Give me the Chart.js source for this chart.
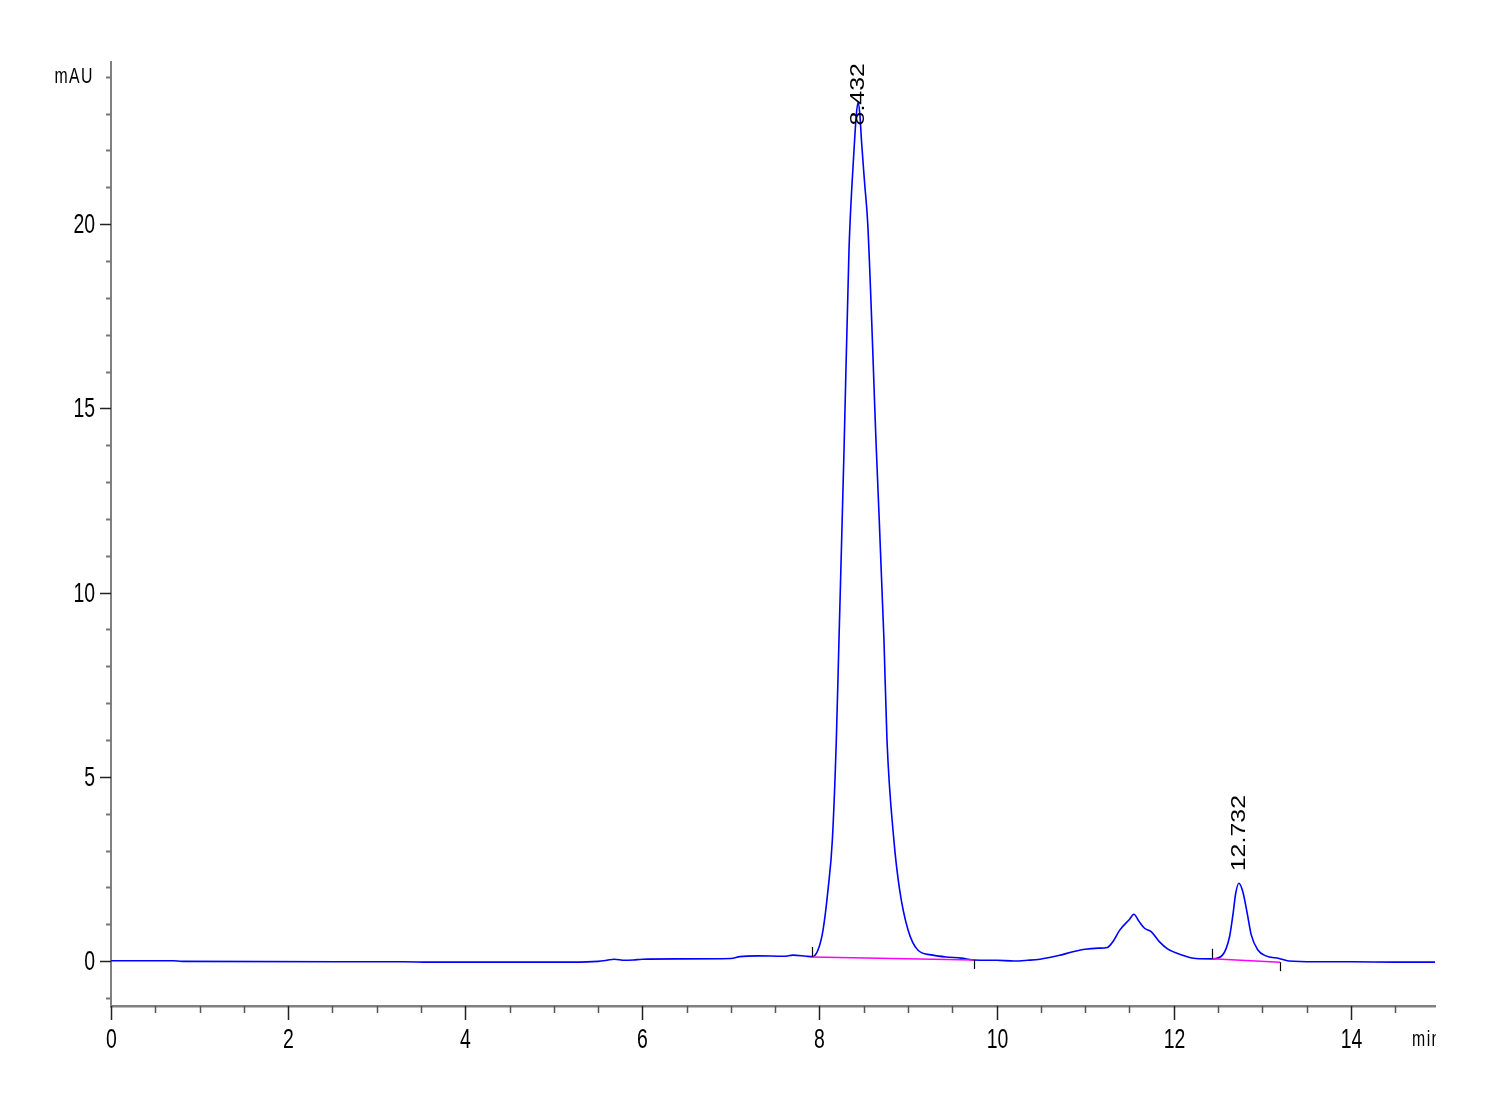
<!DOCTYPE html>
<html><head><meta charset="utf-8">
<script src="https://cdn.jsdelivr.net/npm/chart.js@4.4.1/dist/chart.umd.min.js"></script>
<style>html,body{margin:0;padding:0;background:#fff}#wrap{width:1500px;height:1100px;position:relative}</style>
</head><body><div id="wrap"><canvas id="c" width="1500" height="1100"></canvas></div>
<script>
// ---- data ----
const times = [0, 0.7, 0.8, 3.3, 3.6, 5.2, 5.5, 5.6, 5.68, 5.8, 5.9, 6.0, 6.4, 7.0, 7.1, 7.3, 7.6, 7.7, 7.85,
  7.92, 7.983, 8.04, 8.096, 8.145, 8.19, 8.22, 8.277, 8.333, 8.365, 8.397, 8.415, 8.435, 8.455, 8.476, 8.51, 8.545,
  8.642, 8.728, 8.762, 8.84, 8.905, 9.0, 9.11, 9.28, 9.43, 9.6, 9.75, 10.0, 10.2, 10.35, 10.49, 10.7, 10.86, 11.0,
  11.15, 11.25, 11.32, 11.39, 11.5, 11.55, 11.61, 11.67, 11.745, 11.84, 11.93, 12.1, 12.25, 12.44, 12.55, 12.63,
  12.67, 12.70, 12.735, 12.78, 12.83, 12.875, 12.95, 13.04, 13.19, 13.3, 13.6, 14.0, 14.5, 14.95];
const signal = [0.01, 0.01, -0.01, -0.02, -0.03, -0.03, -0.01, 0.02, 0.05, 0.02, 0.03, 0.05, 0.06, 0.07, 0.12, 0.14, 0.13, 0.16, 0.13,
  0.12, 0.30, 0.84, 1.93, 3.28, 6.0, 8.71, 13.87, 19.29, 21.0, 22.3, 22.95, 23.3, 23.0, 22.2, 21.1, 20.0,
  13.87, 8.71, 6.0, 3.28, 1.93, 0.84, 0.30, 0.16, 0.11, 0.08, 0.03, 0.02, 0.0, 0.02, 0.05, 0.15, 0.25, 0.32,
  0.35, 0.37, 0.55, 0.84, 1.13, 1.27, 1.07, 0.89, 0.80, 0.52, 0.33, 0.16, 0.07, 0.06, 0.16, 0.66,
  1.29, 1.84, 2.11, 1.88, 1.29, 0.71, 0.30, 0.14, 0.07, 0.0, -0.02, -0.02, -0.03, -0.03];
const peakTimes = [8.432, 12.732];
const peakHeights = [23.3, 2.11];
const peakLabels = ['8.432', '12.732'];
const baseStartT = [7.91, 12.43];
const baseStartY = [0.11, 0.06];
const baseEndT = [9.74, 13.2];
const baseEndY = [0.03, -0.03];
const xTickLabels = ['0', '2', '4', '6', '8', '10', '12', '14'];
const yTickLabels = ['0', '5', '10', '15', '20'];
const yUnit = 'mAU';
const xUnit = 'min';

const traceData = times.map((t, i) => ({x: t, y: signal[i]}));
const baselineSets = baseStartT.map((t, i) => ({
  data: [{x: t, y: baseStartY[i]}, {x: baseEndT[i], y: baseEndY[i]}],
  borderColor: '#ff00ff', borderWidth: 1.5, pointRadius: 0, order: 0
}));

const SANS = '"Liberation Sans", Arial, sans-serif';
const NARROW_SCALE = 0.72;

function narrowText(ctx, txt, x, y, align, baseline, size, spacing) {
  ctx.save();
  ctx.font = size + 'px ' + SANS;
  if (spacing) ctx.letterSpacing = spacing + 'px';
  ctx.textAlign = align;
  ctx.textBaseline = baseline;
  ctx.translate(x, y);
  ctx.scale(NARROW_SCALE, 1);
  ctx.fillText(txt, 0, 0);
  ctx.restore();
}

const decor = {
  id: 'decor',
  afterDraw(chart) {
    const ctx = chart.ctx, xs = chart.scales.x, ys = chart.scales.y, ca = chart.chartArea;
    ctx.save();
    // y tick marks + labels
    ys.ticks.forEach(tk => {
      const v = Math.round(tk.value * 1000) / 1000;
      if (Math.abs(v - Math.round(v)) > 1e-6) return;
      const py = Math.round(ys.getPixelForValue(v)) + 0.5;
      const major = v % 5 === 0;
      ctx.beginPath();
      ctx.strokeStyle = major ? '#222' : '#777';
      ctx.lineWidth = major ? 1.5 : 2;
      ctx.moveTo(ca.left - (major ? 11 : 5), py);
      ctx.lineTo(ca.left, py);
      ctx.stroke();
      const s = String(v);
      if (yTickLabels.includes(s)) {
        ctx.fillStyle = '#000';
        narrowText(ctx, s, 95, py + 1, 'right', 'middle', 27);
      }
    });
    // x tick marks + labels
    xs.ticks.forEach(tk => {
      const v = Math.round(tk.value * 1000) / 1000;
      const px = Math.round(xs.getPixelForValue(v)) + 0.5;
      const major = Math.abs(v / 2 - Math.round(v / 2)) < 1e-6;
      ctx.beginPath();
      ctx.strokeStyle = major ? '#222' : '#555';
      ctx.lineWidth = 1.5;
      ctx.moveTo(px, ca.bottom);
      ctx.lineTo(px, ca.bottom + (major ? 14 : 7));
      ctx.stroke();
      const s = String(v);
      if (xTickLabels.includes(s)) {
        ctx.fillStyle = '#000';
        narrowText(ctx, s, px, 1048, 'center', 'alphabetic', 27);
      }
    });
    // integration marks
    ctx.strokeStyle = '#000';
    ctx.lineWidth = 1.2;
    baseStartT.forEach((t, i) => {
      const px = Math.round(xs.getPixelForValue(t)) + 0.5, py = ys.getPixelForValue(baseStartY[i]);
      ctx.beginPath(); ctx.moveTo(px, py); ctx.lineTo(px, py - 10); ctx.stroke();
      const qx = Math.round(xs.getPixelForValue(baseEndT[i])) + 0.5, qy = ys.getPixelForValue(baseEndY[i]);
      ctx.beginPath(); ctx.moveTo(qx, qy); ctx.lineTo(qx, qy + 9); ctx.stroke();
    });
    // peak labels
    ctx.fillStyle = '#000';
    ctx.font = '19.5px ' + SANS;
    ctx.textBaseline = 'middle';
    ctx.textAlign = 'left';
    peakLabels.forEach((lab, i) => {
      const px = xs.getPixelForValue(peakTimes[i]);
      const apex = ys.getPixelForValue(peakHeights[i]);
      const stretch = 1.28;
      const len = ctx.measureText(lab).width * stretch;
      let y0 = apex - 12;
      if (y0 - len < ca.top) y0 = ca.top + len + 1;
      ctx.save();
      ctx.translate(px + 1, y0);
      ctx.rotate(-Math.PI / 2);
      ctx.scale(stretch, 1);
      ctx.fillText(lab, 0, 0);
      ctx.restore();
    });
    // unit labels
    ctx.fillStyle = '#000';
    narrowText(ctx, yUnit, 94, 83, 'right', 'alphabetic', 22, 2);
    ctx.save();
    ctx.beginPath();
    ctx.rect(0, ca.bottom + 1, ca.right + 1, 100);
    ctx.clip();
    narrowText(ctx, xUnit, 1412, 1046, 'left', 'alphabetic', 22, 2);
    ctx.restore();
    ctx.restore();
  }
};

new Chart(document.getElementById('c'), {
  type: 'line',
  data: {
    datasets: [
      {data: traceData, borderColor: '#0000ff', borderWidth: 1.6, pointRadius: 0,
       cubicInterpolationMode: 'monotone', order: 1},
      ...baselineSets
    ]
  },
  options: {
    responsive: false,
    animation: false,
    events: [],
    layout: {padding: {top: 62, right: 65, left: 0, bottom: 0}},
    plugins: {legend: {display: false}, tooltip: {enabled: false}},
    scales: {
      x: {
        type: 'linear', min: 0, max: 14.95,
        afterFit: s => { s.height = 94; },
        grid: {drawOnChartArea: false, drawTicks: false},
        border: {display: true, color: '#808080', width: 2.5},
        ticks: {stepSize: 0.5, includeBounds: false, autoSkip: false, maxRotation: 0, display: false}
      },
      y: {
        type: 'linear', min: -1.22, max: 24.4,
        afterFit: s => { s.width = 111; },
        grid: {drawOnChartArea: false, drawTicks: false},
        border: {display: true, color: '#808080', width: 2},
        ticks: {stepSize: 1, includeBounds: false, autoSkip: false, display: false}
      }
    }
  },
  plugins: [decor]
});
</script>
</body></html>
